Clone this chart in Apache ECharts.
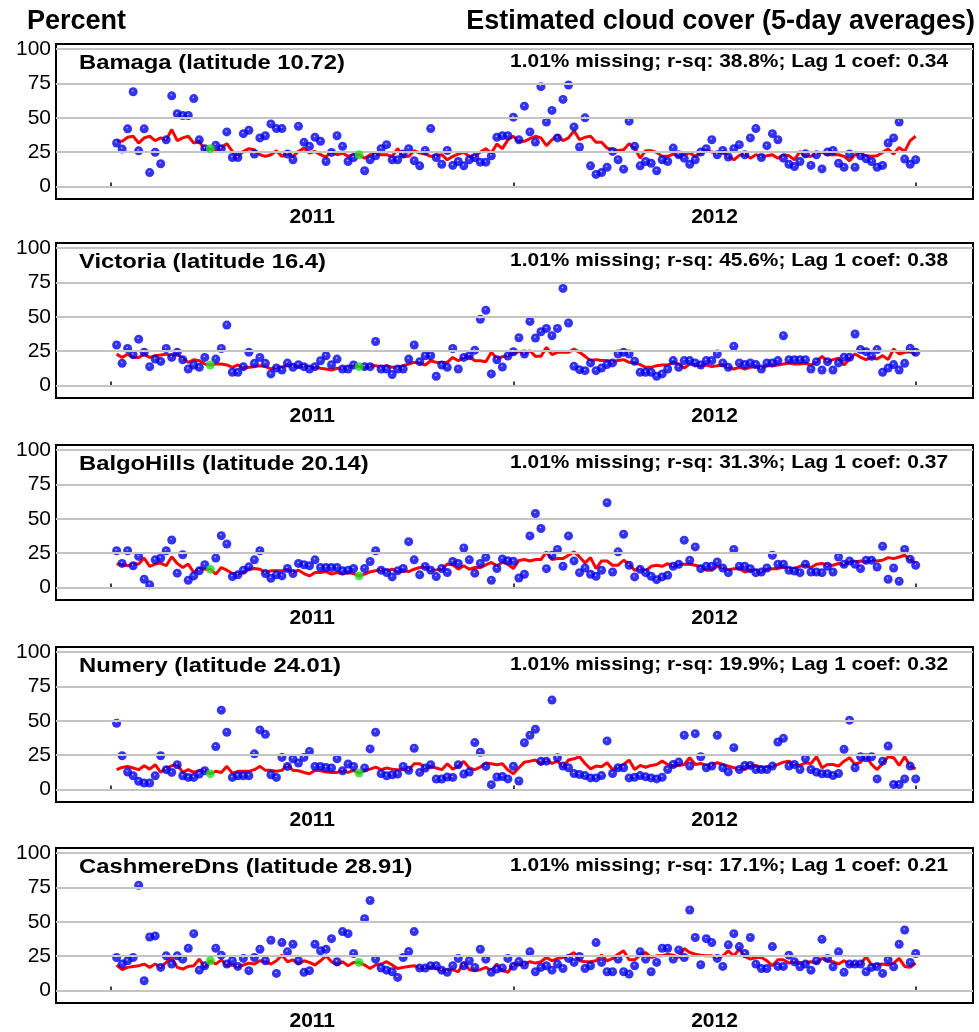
<!DOCTYPE html>
<html><head><meta charset="utf-8">
<script src="https://cdn.jsdelivr.net/npm/echarts@6/dist/echarts.min.js"></script>
<style>html,body{margin:0;padding:0;background:#fff}#c{width:979px;height:1032px}</style>
</head><body><div id="c"></div>
<script>
// ---------------- data ----------------
const stations = ['Bamaga', 'Victoria', 'BalgoHills', 'Numery', 'CashmereDns'];
const latitudes = ['10.72', '16.4', '20.14', '24.01', '28.91'];
const missingPct = ['1.01', '1.01', '1.01', '1.01', '1.01'];
const rsq = ['38.8', '45.6', '31.3', '19.9', '17.1'];
const lag1 = ['0.34', '0.38', '0.37', '0.32', '0.21'];
const yearLabels = ['2011', '2012'];
const yearStarts = [0, 365, 730];          // day index of year boundaries (ticks)
const yearCentres = [182.5, 547.5];        // label positions
const yTickValues = [0, 25, 50, 75, 100];
const periodLength = 5;                    // 5-day averages, periods 1..146
const missingPeriods = [18, 45];           // periods shown in green (missing, filled with fit)

const bamagaObs = [31.7,27.3,42,69,26,42,10.2,25,16.6,34, 66,53,51.7,51.7,64,34,27.5,null,30,27.5,
 39.8,21.2,21.2,38.5,41,23.7,35.4,37,45.6,42.2, 42.2,23.7,19.5,43.9,32.2,29.3,35.9,33,18.3,24.9,
 37,29.3,18.3,21.2,null,11.5,19.5,22.4,27.6,30.5, 19.5,19.5,23.7,27.6,18.8,15.1,26.3,42.2,21.2,16.3,
 26.3,15.4,18.3,15.1,19.5,21.2,17.8,17.8,22.4,35.9, 37,37,50.5,34,58.5,39.8,32.4,72.7,47,55.4,
 35.4,63.4,73.9,43.4,28.8,50,15.1,8.9,10.2,14.1, 25.6,19.5,12.7,47.6,29.3,15.1,18.3,17,11.5,19.5,
 18.3,28,23.2,20.7,16.3,19.5,25.1,27.6,34.1,23.2, 26.3,21.5,27.6,30.5,23.2,35.4,42.2,21.2,29.8,38.5,
 34.1,20.7,16.3,14.6,18.3,23.9,15.4,23.2,12.9,25.1, 26.3,17,14.1,23.7,14.1,22.4,20.2,18.3,14.1,15.4,
 31.7,35.4,47,20,16.3,19.5];
const bamagaFit = [33.4,32.9,35.9,36.6,31.7,35.4,36.6,33.4,35.4,34, 41.5,33.4,35.4,36.6,31.7,32.9,26.8,27.6,25.6,28.5,
 31.2,25.6,22,25.6,27.6,26.8,23.2,22,23.2,26.1, 22,24.4,22,25.6,28,24.4,25.6,23.2,21.5,25.6,
 23.2,24.4,22,23.2,23.2,20.7,23.2,23.7,23.2,23.2, 22,27.6,22,22,26.1,24.4,23.7,22,22.7,23.2,
 19.5,22,23.7,24.9,22,22,25.1,27.6,24.4,31, 27.6,34,36.6,32.9,32.9,34.9,36.6,35.4,29.8,34.1,
 37.3,33.4,35.4,40.7,34.1,35.9,36.6,32.2,32.2,28, 26.8,26.3,26.8,31.2,28,20.7,26.1,26.1,24.9,22,
 22,23.7,22,23.7,24.4,22,24.4,26.3,25.1,24.4, 25.6,22,19.5,22.7,23.7,20.7,23.2,22,22.4,23.2,
 20.7,23.2,22.4,19.5,25.6,22,22,24.4,24.9,23.2, 23.2,23.2,22,18.8,23.2,23.9,22.4,22,22.4,24.9,
 27.3,23.7,28.5,25.6,33.4,36.6];

const victoriaObs = [29.5,16.2,27,22.5,33.8,24.2,13.8,19.3,17.6,27, 20.5,24.2,18.8,12.1,15,13.3,20.5,null,19.3,27,
 44,9.7,9.7,13.8,24.2,16.2,20.5,16.2,8.5,12.8, 11.4,16.4,13.3,15.2,13.8,12.1,13.8,18.1,21.7,15.2,
 19.3,12.1,12.1,15,null,13.8,13.8,32.1,12.1,12.1, 8,12.1,12.1,19.3,29.5,17.4,21.7,21.7,6.8,15,
 13.3,27,12.1,20.5,21.7,25.8,48.3,54.8,8.5,18.8, 13.5,21.5,24.6,34.8,23,46.7,34.6,39.2,41.6,36.3,
 41.6,70.7,45.5,14,11.6,10.9,16.5,10.9,12.8,15.3, 16.5,23,24.2,23,17.7,9.7,9.7,9.7,6.8,8.5,
 12.1,18.2,13.3,18.2,18.2,16.5,15,18.2,18.2,23, 16.5,13.3,28.6,16.5,15.3,16.5,15.3,12.1,16.5,16.5,
 18.2,36.3,18.9,18.9,18.9,18.9,12.1,17.4,11.4,17.4, 11.4,16.5,20.6,20.6,37.5,26.2,24.7,21.3,26.2,9.7,
 12.8,15.3,11.4,16.2,27.1,24.2];
const victoriaFit = [22.9,20.5,22.9,20.5,20.5,22.9,20.5,21.7,22.2,22.9, 21.7,22.9,19.8,16.9,18.8,18.1,15.7,15,15.7,15.7,
 15,13.3,15,12.6,13.3,13.8,14.5,13.8,12.1,13.3, 13.3,15,14.5,13.8,14.5,13.3,13.3,12.6,12.1,11.4,
 12.6,12.8,13.3,14.5,13.8,13.3,14.5,14.5,13.8,14.5, 13.3,13.3,14.5,15.7,16.9,16.4,15,18.1,16.9,16.9,
 16.9,20.5,18.1,20.5,21.3,18.1,18.1,17.4,24.2,19.8, 21,21.8,23.5,24.7,23,25.4,21.3,21.3,27.8,22.5,
 24.2,24.2,24.2,26.6,24.2,21.3,18.2,18.9,18.2,18.2, 17.4,18.2,18.9,16.9,16.5,15.3,13.3,13.3,14.5,15,
 15,16.9,15.7,12.8,15.7,15,14.5,15,13.8,14.5, 15,13.3,12.1,13.3,12.1,13.3,13.8,12.8,14.5,14.5,
 15,15.7,16.5,15.7,15.7,16.2,15,17.4,21.3,17.4, 18.9,19.9,15,19.4,23,20.6,18.9,20.6,19.4,21.8,
 18.9,26.6,23,24.2,24.7,22.5];

const balgoObs = [26.8,17.6,26.8,15.9,22.7,6.1,2,20.2,21.5,26.8, 34.6,10.5,23.9,5.4,8.5,12.2,16.6,null,21.5,37.8,
 31.7,8,9.3,12.7,15.1,20.2,26.8,10.2,6.8,9.3, 8.5,13.9,10.2,17.6,16.6,15.9,20.2,14.6,14.6,14.6,
 14.6,12.2,12.7,13.9,null,13.9,19,26.8,12.7,11, 7.8,12.2,13.9,33.4,20.2,9.3,15.4,12.7,8,13.9,
 11,19,17.6,28.8,20.2,10.5,17.6,22,5.4,13.9, 20.9,19.5,19.2,7,9.7,37.6,53.9,43,13.8,23.5,
 27.7,15.5,37.6,19.4,10.9,14.3,9.7,8.3,12.6,61.7, 11.4,26,38.8,16.3,7.8,13.3,10.9,8.3,5.8,7.8,
 9,15.5,17,34.5,19.9,29.6,13.8,15.5,15.5,18.7, 14.3,10.9,27.7,15.5,15.5,13.8,10.9,11.4,14.3,23.5,
 17,17,12.6,12.1,10.9,17,11.4,11.4,10.9,15.5, 11.4,22.3,17,19.4,17,13.8,19.9,19.9,15,30.1,
 6.1,14.3,4.6,27.7,20.6,16.3];
const balgoFit = [17.1,16.6,15.9,17.1,17.1,21.5,15.4,17.1,17.8,15.9, 22.4,17.6,14.6,17.1,11,13.9,13.4,13.4,9.8,14.6,
 12.7,10.2,10.2,11,13.4,13.9,13.4,11,12.2,12.2, 12.2,13.4,11,12.7,10.2,8.5,11,11,11.7,9.8,
 11,9.8,11,10.2,8.5,9.8,11.5,12.2,13.4,12.2, 13.4,11.7,12.2,11.7,13.4,14.6,15.1,12.7,12.9,13.4,
 17.1,16.6,13.4,15.9,13.4,14.6,14.6,16.6,18.3,15.9, 18.5,17,13.8,19.7,20.4,19.4,20.4,20.4,26,20.4,
 21.1,21.1,23.5,26,22.3,18,21.8,13.8,19.4,19.4, 16.3,16.3,19.9,17,12.6,13.8,12.1,15.5,16.3,15.5,
 17.5,15.5,17,17,17,16.3,15,12.6,12.6,15.5, 14.3,12.6,13.8,13.8,11.4,12.6,12.6,11.4,13.3,13.8,
 13.8,15,13.8,13.8,15.5,16.3,14.6,17,17.5,16.3, 16.3,17.5,16.3,19.4,18.7,19.4,18.7,19.9,19.4,19.9,
 21.8,21.1,22.3,23.5,20.4,17.5];

const numeryObs = [48.2,24.6,12.8,10.1,6,4.8,4.8,10.1,24.6,14.5, 12.5,18.1,10.1,8.9,8.9,11.3,13.7,null,31.3,57.8,
 41.7,8.9,10.1,10.1,10.1,26,43.4,40.2,10.8,8.9, 23.4,16.9,22.4,19.3,23.4,27.7,16.9,16.9,16.1,15.7,
 22.4,13.7,18.6,16.9,null,15.7,29.6,41.7,11.6,10.1, 10.8,11.3,16.9,14,30.1,12.5,15.7,18.1,7.7,7.7,
 9.2,8.9,18.1,11.3,12.8,34.2,27.2,16.9,3.6,9.2, 9.5,7.8,17,6.3,34.1,39.5,43.9,20.7,20.7,65.1,
 23.2,17.1,15.9,11.7,11,10.2,8.5,8.5,10.2,35.4, 11.7,15.9,15.9,8.5,9,10.2,9.3,8.5,7.8,9,
 14.6,18.3,20,39.5,17.1,40.7,23.9,15.9,17.1,39.5, 15.9,12.9,30.5,14.6,17.6,17.6,14.6,14.6,14.6,17.1,
 34.6,37.3,17.1,18.3,14.6,22.7,14.6,12.7,11.5,11.5, 10.2,11.7,29.3,50.5,15.9,23.9,23.2,23.9,7.8,20.7,
 31.7,3.7,3.7,7.8,17.1,7.8];
const numeryFit = [14.5,16.1,16.9,15.7,14.5,17.3,14.9,18.1,12.5,15.7, 17.3,18.1,12.5,14.5,12.5,14,14,11.6,13.3,12.5,
 16.9,12,13.3,13.3,13.3,14.5,16.9,14,14,13.3, 14,18.1,14,13.7,12.5,11.6,14,13.7,12.8,12.5,
 12.5,13.7,12.5,14,12,14,14.9,16.4,14.5,15.7, 14.9,14.5,14.5,14.5,18.8,18.8,15.7,16.9,15.7,14.5,
 18.8,14.9,16.9,20.5,15.7,14.5,16.4,19.3,18.8,18.1, 18.8,14.3,11.5,15.9,20,20.7,21.5,18.3,21.5,19,
 20.7,16.6,21.5,22.4,23.9,19,15.1,17.1,16.6,19.5, 14.6,16.6,18.3,21.5,14.6,17.6,16.3,17.6,18.3,20.7,
 18.3,17.1,17.6,18.3,23.2,18.3,19,17.6,18.3,19.5, 18.3,17.1,15.9,15.1,14.6,17.1,17.6,15.9,16.3,17.1,
 18.3,20,20.7,18.3,17.6,19.5,19,23.9,15.9,18.3, 18.3,17.1,20.7,23.2,18.3,20,24.4,18.3,14.6,19,
 23.9,23.2,17.6,23.9,17.1,15.1];

const cashmereObs = [24.1,19.3,21.7,24.1,76.6,7.2,39,39.8,16.9,25.3, 19.3,25.3,22.9,30.8,41.4,14.9,18.1,null,30.8,25.8,
 19.3,21.7,17.6,23.4,14.5,24.1,30.1,21.7,36.6,12.5, 34.9,28.2,33.7,21.7,13.3,14.5,33.7,28.9,30.1,37.8,
 21,42.9,41.4,27,null,52.3,65.5,22.9,16.4,14.9, 13.7,9.6,24.1,28.4,42.9,16.4,16.4,18.1,18.1,14.9,
 13.3,18.1,23.4,18.1,21.7,16.9,30.1,22.9,13.3,15.7, 16.5,23.4,17.7,21.1,18.6,28.2,13.7,16.9,18.1,14.9,
 19.3,16.1,23.4,20.5,24.8,16.1,18.1,34.9,20.5,13.7, 13.7,22.9,13.7,12,18.1,28.2,22.9,13.7,20.5,30.8,
 30.8,22.9,29.6,24.1,58.6,38.6,18.8,37.8,34.9,23.4, 17.6,33.3,41.4,32,27,38.6,19.3,16.1,16.1,32,
 17.6,17.6,25.8,21,17.3,19.3,14.9,21.7,37.3,23.4, 17.3,28.2,13.3,19.3,19.3,19.3,13.7,16.9,17.6,12.5,
 22.4,17.3,33.7,44.1,20.5,27];
const cashmereFit = [18.6,15.2,16.9,17.6,18.1,19.3,16.9,19.3,16.9,20.5, 24.1,16.9,15.7,17.6,18.1,22.9,16.9,21.7,19.3,22.4,
 18.1,18.6,17.3,18.6,20,19.3,21.7,21,19.3,21.7, 25.8,21,22.4,19.3,21.7,20.5,18.6,21.7,25.3,21,
 18.6,21,18.1,20.5,20.5,18.6,16.1,18.6,19.3,21, 18.6,16.1,16.9,17.6,18.1,16.9,16.9,16.9,16.1,15.2,
 14.9,15.2,13.7,20.5,15.2,14.5,15.2,16.9,14.5,19.3, 14.7,13.3,19.3,18.6,19.3,21,20,21,24.1,21.7,
 23.4,24.1,25.3,27.7,21.7,21,21,21.7,25.8,21.7, 23.4,26.5,28.9,22.4,22.4,25.8,27.7,24.1,25.3,25.3,
 26.5,25.8,24.1,30.6,27.7,26.5,25.8,25.3,25.3,24.1, 25.3,28.9,25.3,30.1,24.8,22.9,24.1,24.1,21.7,18.1,
 22.4,22.4,20,21,20.5,20.5,21,20,23.4,21.7, 21,19.3,21.7,19.3,19.3,19.3,24.8,18.6,18.6,19.3,
 18.6,20,23.4,17.6,16.9,20];

const observed = [bamagaObs, victoriaObs, balgoObs, numeryObs, cashmereObs];
const fitted = [bamagaFit, victoriaFit, balgoFit, numeryFit, cashmereFit];

// ---------------- layout ----------------
const panelTops = [44, 243, 445, 647, 848];
const panelH = 155;
const GRID_LEFT = 56, GRID_RIGHT = 6;
const FONT = '"Liberation Sans", Arial, Helvetica, sans-serif';

const chart = echarts.init(document.getElementById('c'), null, {renderer: 'canvas'});

const grids = [], xAxes = [], yAxes = [], series = [], graphics = [];

stations.forEach((name, i) => {
  grids.push({left: GRID_LEFT, right: GRID_RIGHT, top: panelTops[i], height: panelH,
    show: true, borderColor: '#000', borderWidth: 2, backgroundColor: '#fff', containLabel: false});
  xAxes.push({
    type: 'value', gridIndex: i, min: -50, max: 782,
    axisLine: {show: false},
    splitLine: {show: false},
    axisTick: {show: true, inside: true, length: 4, customValues: yearStarts,
      lineStyle: {color: '#000', width: 1.5}},
    axisLabel: {show: true, customValues: yearCentres, margin: 8,
      formatter: v => yearLabels[yearCentres.indexOf(v)] || '',
      color: '#000', fontFamily: FONT, fontWeight: 'bold', fontSize: 21}
  });
  yAxes.push({
    type: 'value', gridIndex: i, min: -9, max: 103.7,
    axisLine: {show: false}, axisTick: {show: false}, splitLine: {show: false},
    axisLabel: {show: true, customValues: yTickValues, margin: 5,
      color: '#000', fontFamily: FONT, fontSize: 21}
  });

  const obs = observed[i], fit = fitted[i];
  const fitPts = fit.map((v, k) => [(k + 1) * periodLength, v]);
  const obsPts = [];
  obs.forEach((v, k) => { if (v !== null) obsPts.push([(k + 1) * periodLength, v]); });
  const missPts = missingPeriods.map(p => [p * periodLength, fit[p - 1]]);

  // horizontal reference lines at the tick values
  series.push({
    type: 'line', xAxisIndex: i, yAxisIndex: i, data: fitPts, silent: true,
    showSymbol: false, lineStyle: {opacity: 0}, z: 1,
    markLine: {silent: true, symbol: ['none', 'none'], label: {show: false},
      lineStyle: {color: '#c4c4c4', width: 1.8, type: 'solid'},
      emphasis: {disabled: true},
      data: yTickValues.map(v => ({yAxis: v}))}
  });
  series.push({
    type: 'line', xAxisIndex: i, yAxisIndex: i, data: fitPts, showSymbol: false,
    symbol: 'none', lineStyle: {color: '#ff0000', width: 3}, z: 3
  });
  series.push({
    type: 'scatter', xAxisIndex: i, yAxisIndex: i, data: obsPts, symbolSize: 9,
    itemStyle: {color: '#0000ee'}, z: 4
  });
  series.push({
    type: 'scatter', xAxisIndex: i, yAxisIndex: i, data: obsPts, symbolSize: 1.5,
    symbolOffset: [-0.5, -1], itemStyle: {color: '#ffffff'}, z: 5, silent: true
  });
  series.push({
    type: 'scatter', xAxisIndex: i, yAxisIndex: i, data: missPts, symbolSize: 9,
    itemStyle: {color: '#22e022'}, z: 6
  });

  graphics.push({type: 'text', x: 79, y: panelTops[i] + 19, z: 10, scaleX: 1.19,
    style: {text: name + ' (latitude ' + latitudes[i] + ')', font: 'bold 20px ' + FONT,
      fill: '#000', align: 'left', verticalAlign: 'middle'}});
  graphics.push({type: 'text', x: 948, y: panelTops[i] + 18, z: 10, scaleX: 1.1,
    style: {text: missingPct[i] + '% missing; r-sq: ' + rsq[i] + '%; Lag 1 coef: ' + lag1[i],
      font: 'bold 19px ' + FONT, fill: '#000', align: 'right', verticalAlign: 'middle'}});
});

graphics.push({type: 'text', x: 27, y: 22, z: 10,
  style: {text: 'Percent', font: 'bold 27px ' + FONT, fill: '#000', align: 'left', verticalAlign: 'middle'}});
graphics.push({type: 'text', x: 975, y: 22, z: 10,
  style: {text: 'Estimated cloud cover (5-day averages)', font: 'bold 27px ' + FONT, fill: '#000',
    align: 'right', verticalAlign: 'middle'}});

chart.setOption({
  backgroundColor: '#fff',
  animation: false,
  grid: grids, xAxis: xAxes, yAxis: yAxes, series: series,
  graphic: {elements: graphics}
});
</script></body></html>
